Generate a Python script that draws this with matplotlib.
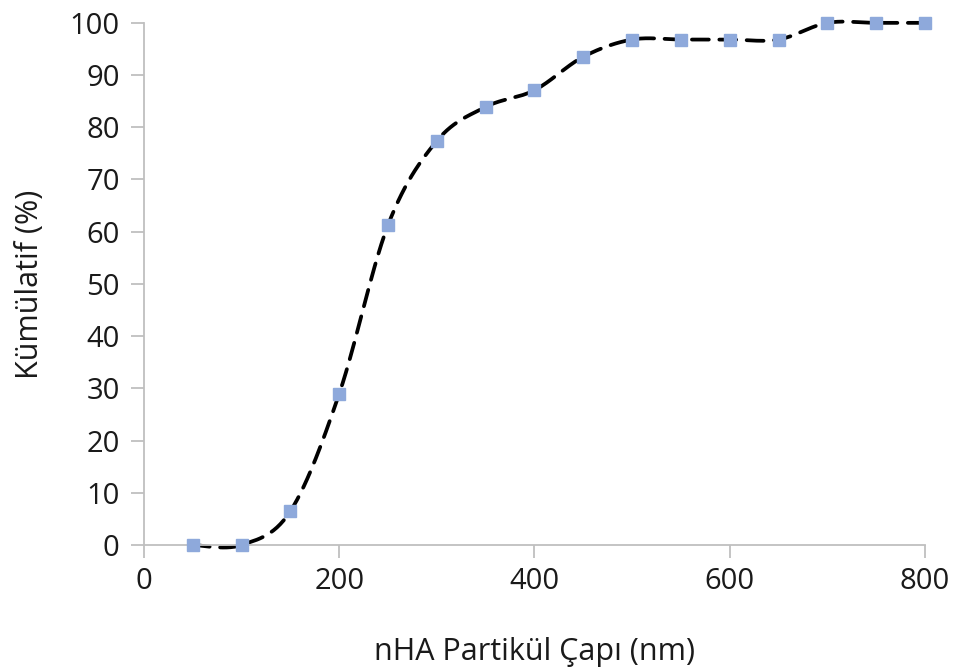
import numpy as np
import matplotlib.pyplot as plt

# Particle size distribution (cumulative)
diameter_nm = [50, 100, 150, 200, 250, 300, 350, 400, 450, 500, 550, 600, 650, 700, 750, 800]
cumulative_pct = [0, 0, 6.5, 29, 61.3, 77.4, 83.9, 87.1, 93.5, 96.8, 96.8, 96.8, 96.8, 100, 100, 100]

plt.rcParams['font.family'] = ['Open Sans', 'DejaVu Sans']


def smooth_curve(x, y, n=30):
    # Catmull-Rom spline through the points, like a spreadsheet "smoothed line"
    p = np.column_stack([x, y]).astype(float)
    p = np.vstack([p[0], p, p[-1]])
    out = []
    t = np.linspace(0, 1, n)[:, None]
    for i in range(1, len(p) - 2):
        p0, p1, p2, p3 = p[i - 1], p[i], p[i + 1], p[i + 2]
        c1 = p1 + (p2 - p0) / 6
        c2 = p2 - (p3 - p1) / 6
        seg = ((1 - t) ** 3) * p1 + 3 * ((1 - t) ** 2) * t * c1 + 3 * (1 - t) * t ** 2 * c2 + t ** 3 * p2
        out.append(seg if i == 1 else seg[1:])
    out = np.vstack(out)
    return out[:, 0], out[:, 1]


fig = plt.figure(figsize=(9.57, 6.72), dpi=100)
ax = fig.add_axes([0.1505, 0.189, 0.816, 0.777])

sx, sy = smooth_curve(diameter_nm, cumulative_pct)
ax.plot(sx, sy, color='black', linewidth=2.7, dashes=(4.5, 2.8), solid_capstyle='round',
        dash_capstyle='round', zorder=2, clip_on=False)
ax.plot(diameter_nm, cumulative_pct, linestyle='none', marker='s', markersize=8.5,
        color='#8EA9DB', zorder=3, clip_on=False)

ax.set_xlim(0, 800)
ax.set_ylim(0, 100)
ax.set_xticks(range(0, 801, 200))
ax.set_yticks(range(0, 101, 10))

for side in ['top', 'right']:
    ax.spines[side].set_visible(False)
for side in ['left', 'bottom']:
    ax.spines[side].set_color('#BFBFBF')
    ax.spines[side].set_linewidth(1.3)
ax.tick_params(axis='both', colors='#BFBFBF', labelcolor='#1a1a1a', labelsize=21,
               length=9.5, width=1.3, direction='out')
ax.tick_params(axis='x', pad=6)
ax.tick_params(axis='y', pad=8)

ax.set_xlabel('nHA Partikül Çapı (nm)', fontsize=22, color='#1a1a1a', labelpad=30)
ax.set_ylabel('Kümülatif (%)', fontsize=22, color='#1a1a1a', labelpad=18)

fig.savefig('out.png', dpi=100)
